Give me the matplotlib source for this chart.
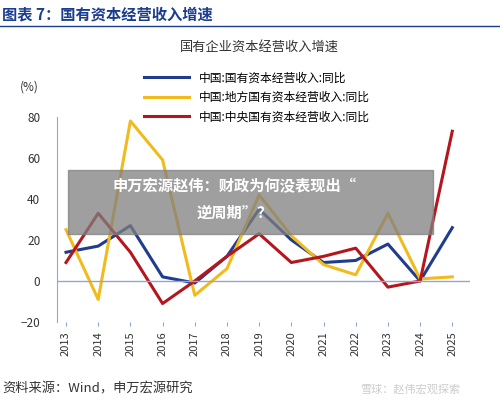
import matplotlib
matplotlib.use("Agg")
import matplotlib.pyplot as plt
from matplotlib.patches import Rectangle

plt.rcParams['font.family'] = ['Noto Sans CJK SC', 'DejaVu Sans']

years = [str(y) for y in range(2013, 2026)]
blue = [14, 17, 27, 2, -1, 12, 35, 20, 9, 10, 18, 0, 26]
yellow = [25, -9, 78, 59, -7, 6, 42, 22, 8, 3, 33, 1, 2]
red = [9, 33, 14, -11, 0, 12, 23, 9, 12, 16, -3, 0, 73]
labels = ['中国:国有资本经营收入:同比', '中国:地方国有资本经营收入:同比', '中国:中央国有资本经营收入:同比']

fig = plt.figure(figsize=(5.0, 4.03), dpi=100)
ax = fig.add_axes([0.114, 0.201, 0.826, 0.509])
x = range(len(years))
ax.plot(x, blue, color='#1f3c8f', lw=2.2, label=labels[0])
ax.plot(x, yellow, color='#f2bb1d', lw=2.2, label=labels[1])
ax.plot(x, red, color='#b5161e', lw=2.2, label=labels[2])
ax.set_ylim(-20, 80)
ax.set_yticks([-20, 0, 20, 40, 60, 80])
ax.set_xlim(-0.28, 12.55)
ax.set_xticks(list(x))
ax.set_xticklabels(years, rotation=90, fontsize=8, color='#333333')
ax.tick_params(axis='y', labelsize=8.5, colors='#333333', length=0, pad=12)
ax.tick_params(axis='x', length=3, color='#8fa8d0')
for s in ['top', 'right', 'bottom']:
    ax.spines[s].set_visible(False)
ax.spines['left'].set_color('#8fa8d0')
ax.axhline(0, color='#8fa8d0', lw=1)
ax.legend(loc='upper left', bbox_to_anchor=(0.2, 1.245), frameon=False, fontsize=8.5,
          handlelength=3.8, labelspacing=0.55, borderaxespad=0)
fig.text(0.04, 0.775, '(%)', fontsize=8.5, color='#333333')
fig.text(0.36, 0.875, '国有企业资本经营收入增速', fontsize=9.5, color='#333333')
fig.text(0.005, 0.965, '图表 7：国有资本经营收入增速', fontsize=11, fontweight='bold', color='#1a3d8f', va='center')
fig.add_artist(plt.Line2D([0, 1], [0.935, 0.935], color='#1a3d8f', lw=1))
fig.text(0.005, 0.035, '资料来源：Wind，申万宏源研究', fontsize=9.5, color='#333333', va='center')
fig.text(0.72, 0.035, '雪球：赵伟宏观探索', fontsize=8, color='#cccccc', va='center')
fig.add_artist(Rectangle((0.135, 0.42), 0.73, 0.158, transform=fig.transFigure, color='#7f7f7f', alpha=0.75))
fig.text(0.47, 0.537, '申万宏源赵伟：财政为何没表现出“', fontsize=11, fontweight='bold', color='white', ha='center', va='center')
fig.text(0.47, 0.472, '逆周期”？', fontsize=11, fontweight='bold', color='white', ha='center', va='center')
fig.savefig('out.png', dpi=100)
